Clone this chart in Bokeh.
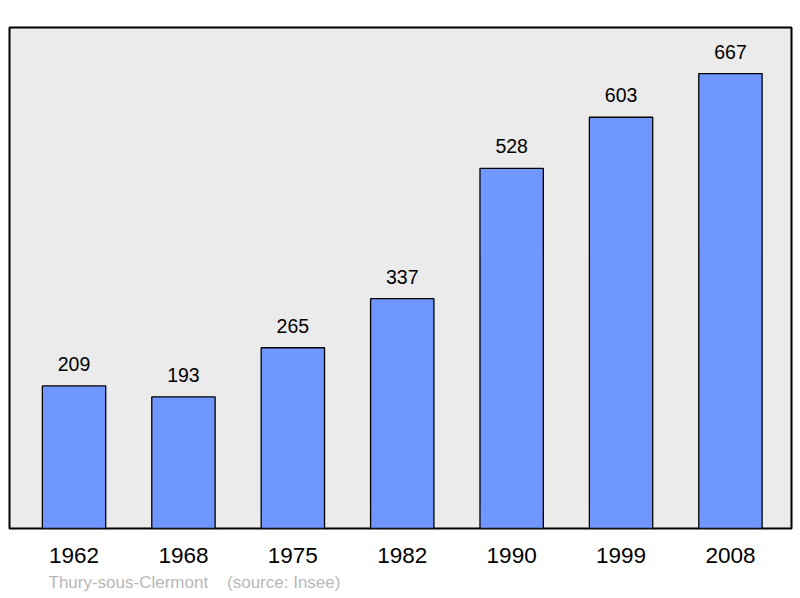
from bokeh.plotting import figure
from bokeh.models import ColumnDataSource, Range1d, FixedTicker, Title
from bokeh.embed import file_html
from bokeh.resources import INLINE
from bokeh.core.properties import value

years = ["1962", "1968", "1975", "1982", "1990", "1999", "2008"]
population = [209, 193, 265, 337, 528, 603, 667]
footer_left = "Thury-sous-Clermont"
footer_right = "(source: Insee)"

FONT = "Liberation Sans"
idx = list(range(len(years)))
src = ColumnDataSource(dict(x=idx, top=population, label=[str(v) for v in population]))

p = figure(width=794, height=597, output_backend="svg", toolbar_location=None,
           x_range=Range1d(-0.59, 6.558), y_range=Range1d(0, 734.6),
           min_border_left=9, min_border_right=3, min_border_top=27, min_border_bottom=69)
p.background_fill_color = "#ebebeb"
p.border_fill_color = "white"
p.outline_line_color = "black"
p.outline_line_width = 2
p.xgrid.visible = False
p.ygrid.visible = False
p.yaxis.visible = False

p.vbar(x="x", top="top", bottom=0, width=0.579, source=src,
       fill_color="#7096ff", line_color="black", line_width=1.3)
p.text(x="x", y="top", text="label", source=src, y_offset=-22,
       text_align="center", text_baseline="alphabetic",
       text_font=value(FONT), text_font_size="19.5px", text_color="black")

ax = p.xaxis[0]
ax.ticker = FixedTicker(ticks=idx)
ax.major_label_overrides = {i: y for i, y in zip(idx, years)}
ax.axis_line_color = None
ax.major_tick_line_color = None
ax.minor_tick_line_color = None
ax.major_tick_out = 0
ax.major_label_standoff = 19
ax.major_label_text_font = FONT
ax.major_label_text_font_size = "22.5px"
ax.major_label_text_color = "black"

footer = footer_left + "\u00a0\u00a0\u00a0\u00a0" + footer_right
p.add_layout(Title(text=footer, align="left", offset=39, standoff=10,
                   text_font=FONT, text_font_size="17px", text_font_style="normal",
                   text_color="#b8b8b8"), "below")

open("out.html", "w").write(file_html(p, INLINE))
